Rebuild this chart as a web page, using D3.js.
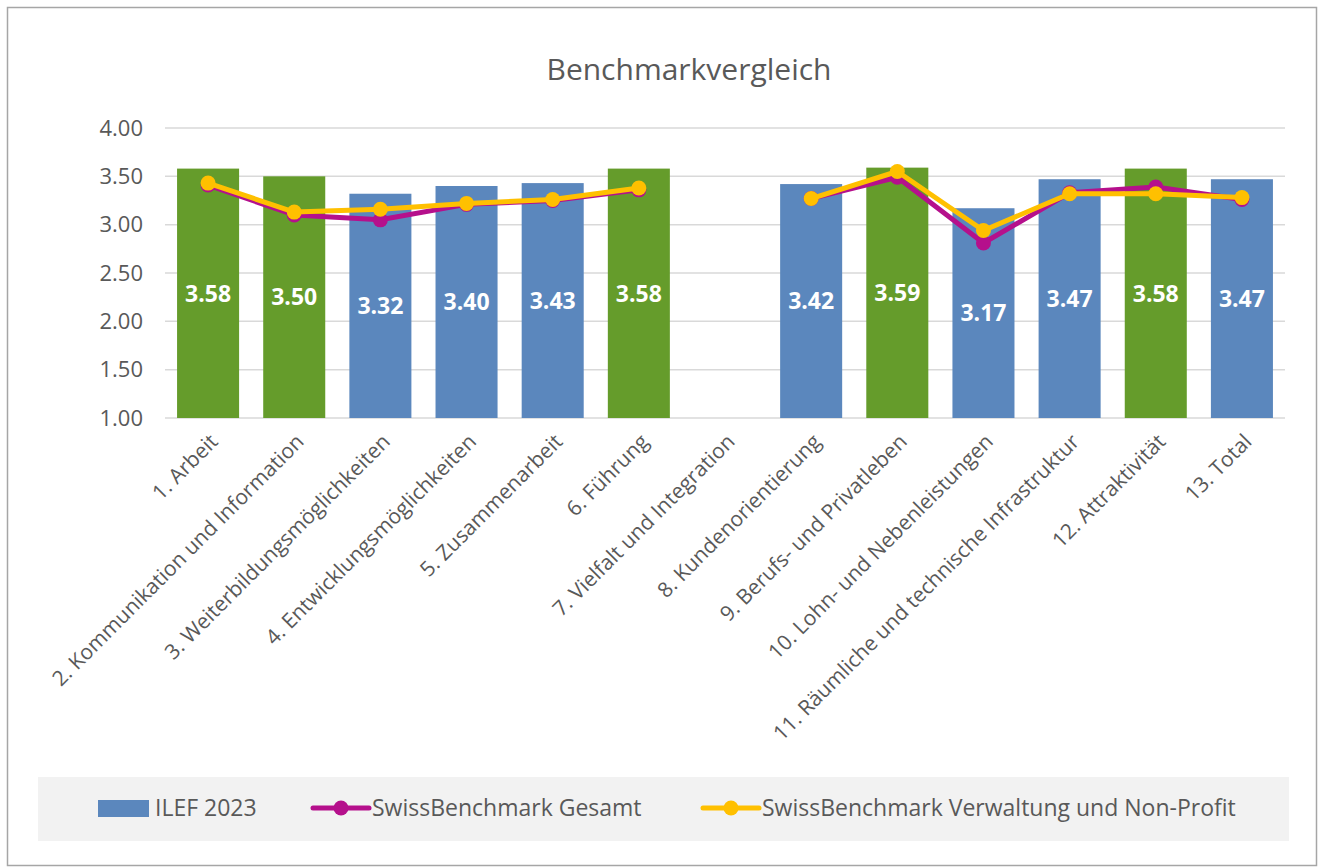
<!DOCTYPE html>
<html><head><meta charset="utf-8">
<script src="https://cdn.jsdelivr.net/npm/d3@7"></script>
<style>body{margin:0;background:#fff;} svg{display:block;font-family:"Open Sans", sans-serif;}</style>
</head><body>
<svg id="c" width="1319" height="867"></svg>
<script>
const categories = ["1. Arbeit","2. Kommunikation und Information","3. Weiterbildungsmöglichkeiten","4. Entwicklungsmöglichkeiten","5. Zusammenarbeit","6. Führung","7. Vielfalt und Integration","8. Kundenorientierung","9. Berufs- und Privatleben","10. Lohn- und Nebenleistungen","11. Räumliche und technische Infrastruktur","12. Attraktivität","13. Total"];
const ilef2023 = [3.58,3.50,3.32,3.40,3.43,3.58,null,3.42,3.59,3.17,3.47,3.58,3.47];
const sbGesamt = [3.41,3.10,3.05,3.21,3.25,3.36,null,3.27,3.49,2.81,3.33,3.39,3.26];
const sbVerwaltung = [3.43,3.13,3.16,3.22,3.26,3.38,null,3.27,3.55,2.94,3.32,3.32,3.28];
const yTicks = [1.00,1.50,2.00,2.50,3.00,3.50,4.00];
const seriesNames = ["ILEF 2023","SwissBenchmark Gesamt","SwissBenchmark Verwaltung und Non-Profit"];
const highlightThreshold = 3.5;

const svg = d3.select("#c");
const blue="#5b87bd", green="#659c2b", magenta="#b5108c", yellow="#ffc000", txt="#595959";

svg.append("rect").attr("x",7.5).attr("y",7.5).attr("width",1309).attr("height",858).attr("fill","#fff").attr("stroke","#a6a6a6").attr("stroke-width",1.5);

svg.append("text").attr("x",689).attr("y",80).attr("text-anchor","middle").attr("font-size",30).attr("fill",txt).text("Benchmarkvergleich");

const x = d3.scaleBand().domain(categories).range([165,1285]).paddingInner(0.28).paddingOuter(0.14);
const y = d3.scaleLinear().domain([1,4]).range([418,128]);

const g = svg.append("g");
g.selectAll(".grid").data(yTicks).join("line")
 .attr("x1",165).attr("x2",1285).attr("y1",d=>y(d)).attr("y2",d=>y(d))
 .attr("stroke","#d9d9d9").attr("stroke-width",1.5);

const yAxis = svg.append("g").attr("transform","translate(165,0)")
 .call(d3.axisLeft(y).tickValues(yTicks).tickFormat(d3.format(".2f")).tickSize(0).tickPadding(22));
yAxis.select(".domain").remove();
yAxis.selectAll("text").attr("font-size",22).attr("fill",txt).attr("font-family","'Open Sans', sans-serif");

const data = categories.map((c,i)=>({c,v:ilef2023[i],a:sbGesamt[i],b:sbVerwaltung[i]}));

g.selectAll(".bar").data(data.filter(d=>d.v!=null)).join("rect")
 .attr("x",d=>x(d.c)).attr("width",x.bandwidth())
 .attr("y",d=>y(d.v)).attr("height",d=>y(1)-y(d.v))
 .attr("fill",d=>d.v>=highlightThreshold?green:blue);

g.selectAll(".lbl").data(data.filter(d=>d.v!=null)).join("text")
 .attr("x",d=>x(d.c)+x.bandwidth()/2).attr("y",d=>(y(d.v)+y(1))/2)
 .attr("dy","0.36em").attr("text-anchor","middle").attr("font-size",23).attr("font-weight","bold").attr("fill","#fff")
 .text(d=>d3.format(".2f")(d.v));

const cx = d=>x(d.c)+x.bandwidth()/2;
function drawLine(key,color){
  const line = d3.line().defined(d=>d[key]!=null).x(cx).y(d=>y(d[key]));
  g.append("path").datum(data).attr("d",line).attr("fill","none").attr("stroke",color).attr("stroke-width",5).attr("stroke-linejoin","round");
  g.selectAll(".pt"+key).data(data.filter(d=>d[key]!=null)).join("circle")
   .attr("cx",cx).attr("cy",d=>y(d[key])).attr("r",7.5).attr("fill",color);
}
drawLine("a",magenta);
drawLine("b",yellow);

// x labels
svg.selectAll(".xl").data(categories).join("text")
 .attr("transform",d=>`translate(${x(d)+x.bandwidth()/2+11},${443}) rotate(-45)`)
 .attr("text-anchor","end").attr("font-size",21).attr("fill",txt).text(d=>d);

// legend
svg.append("rect").attr("x",38).attr("y",777).attr("width",1251).attr("height",64).attr("fill","#f2f2f2");
const ly = 808;
svg.append("rect").attr("x",98).attr("y",800).attr("width",51).attr("height",17).attr("fill",blue);
svg.append("text").attr("x",155).attr("y",ly).attr("dy","0.35em").attr("font-size",23).attr("fill",txt).text(seriesNames[0]);
[[313,magenta,seriesNames[1]],[703,yellow,seriesNames[2]]].forEach(([lx,col,t])=>{
  svg.append("line").attr("x1",lx).attr("x2",lx+56).attr("y1",ly).attr("y2",ly).attr("stroke",col).attr("stroke-width",5).attr("stroke-linecap","round");
  svg.append("circle").attr("cx",lx+28).attr("cy",ly).attr("r",7.5).attr("fill",col);
  svg.append("text").attr("x",lx+59).attr("y",ly).attr("dy","0.35em").attr("font-size",23).attr("fill",txt).text(t);
});
</script>
</body></html>
